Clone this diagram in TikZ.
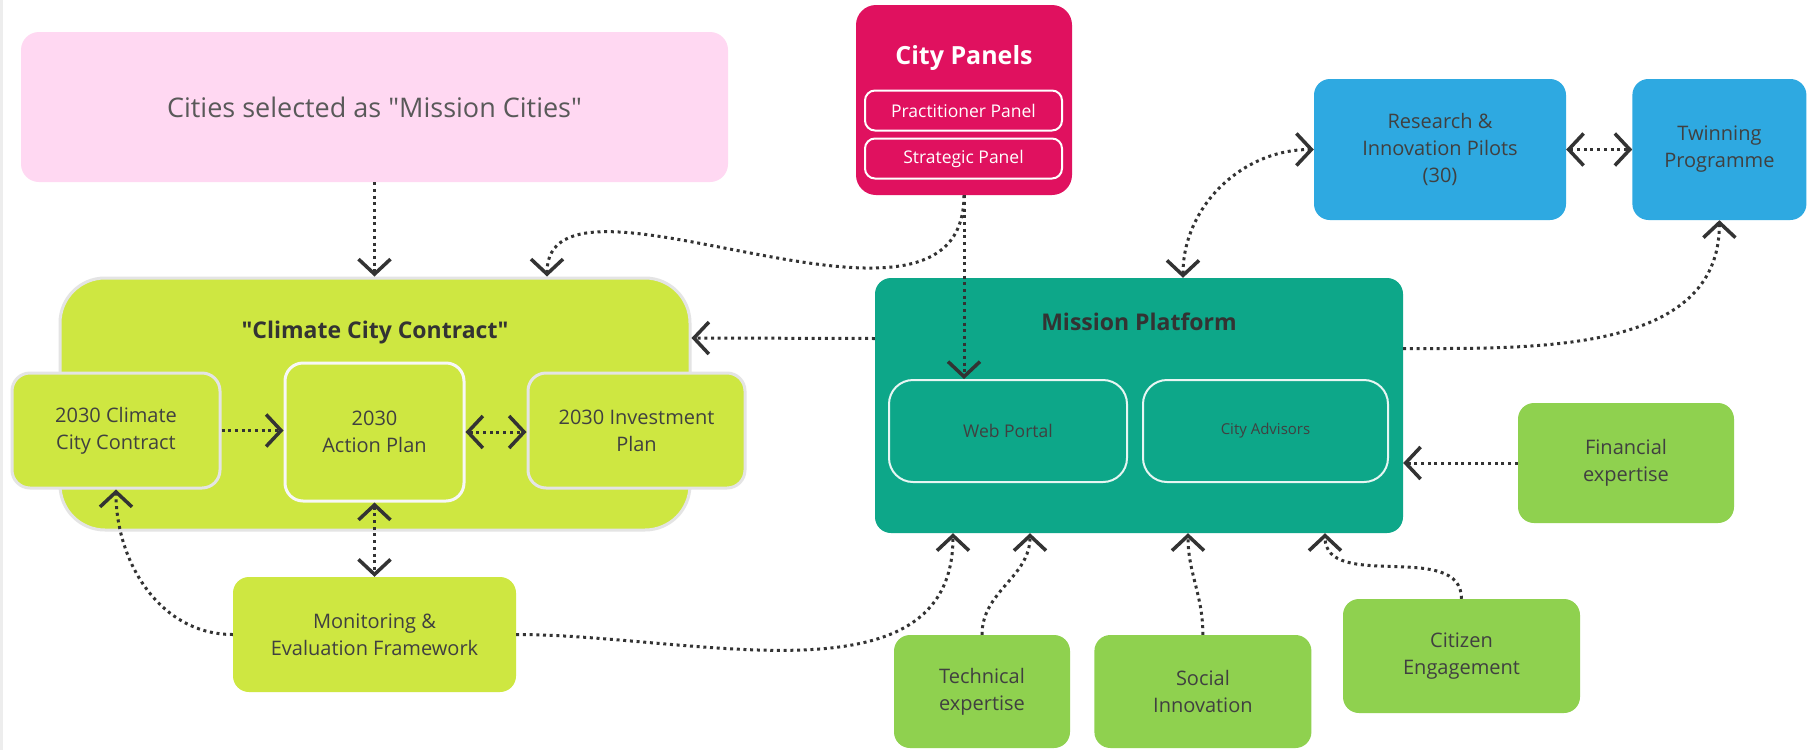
\documentclass[tikz,border=0pt]{standalone}
\usepackage{fontspec}
\setmainfont{Open Sans}
\usepackage{tikz}
\usetikzlibrary{arrows.meta,positioning}
\newcommand\straightquote{\XeTeXglyph\XeTeXcharglyph"22\relax}
\definecolor{cityPink}{HTML}{FFD8F2}
\definecolor{panelRed}{HTML}{E0115F}
\definecolor{contractLime}{HTML}{CEE741}
\definecolor{platformTeal}{HTML}{0DA789}
\definecolor{pilotBlue}{HTML}{2EA9E1}
\definecolor{expertGreen}{HTML}{8FD14F}
\definecolor{textGrey}{HTML}{404040}
\definecolor{rimGrey}{HTML}{E4E4E4}
\tikzset{
    %Define standard arrow tip
    >={Straight Barb[length=15pt,width=32pt,line width=3.5pt]},
    %Define style for boxes
    base/.style={
           rectangle,
           rounded corners=16pt,
           inner sep=0pt,
           text centered,
           align=center,
           text=textGrey,
           font=\fontsize{20}{27}\selectfont},
    pinkbox/.style={
           base,
           fill=cityPink,
           rounded corners=18pt,
           text=black!65,
           font=\fontsize{27}{32}\selectfont},
    panelbox/.style={
           base,
           fill=panelRed,
           rounded corners=20pt},
    panelitem/.style={
           base,
           draw=white, line width=2pt,
           rounded corners=10pt,
           text=white,
           minimum width=197pt,
           minimum height=40pt,
           font=\fontsize{17.5}{20}\selectfont},
    limebox/.style={
           base,
           fill=contractLime},
    limeitem/.style={
           base,
           fill=contractLime,
           draw=rimGrey, line width=3pt,
           rounded corners=18pt},
    tealbox/.style={
           base,
           fill=platformTeal},
    tealitem/.style={
           base,
           draw=white!90!platformTeal, line width=2pt,
           rounded corners=24pt,
           text=black!75,
           font=\fontsize{17.5}{20}\selectfont},
    bluebox/.style={
           base,
           fill=pilotBlue},
    greenbox/.style={
           base,
           fill=expertGreen},
    boxtitle/.style={
           font=\fontsize{23}{26}\selectfont\bfseries,
           text=black!80},
    % Define arrow style
    link/.style={
           ->,
           draw=black!80,
           line width=3pt,
           dash pattern=on 3pt off 3.7pt}
}
\begin{document}
\begin{tikzpicture}[x=1pt,y=1pt]
\useasboundingbox (0,0) rectangle (1818,-750);
\fill[white] (0,0) rectangle (1818,-750);
\fill[black!7] (0,0) rectangle (3,-750);
 %nodes
\node[pinkbox, minimum width=707pt, minimum height=150pt] (cities) at (374.5,-107) {Cities selected as \straightquote Mission Cities\straightquote};
\node[panelbox, minimum width=216pt, minimum height=190pt] (panels) at (964,-100) {};
\node[boxtitle, text=white, font=\fontsize{25}{28}\selectfont\bfseries] (paneltitle) at (964,-58) {City Panels};
\node[panelitem] (practitioner) at (963.5,-110.5) {Practitioner Panel};
\node[panelitem, below=6pt of practitioner] (strategic) {Strategic Panel};
% climate city contract
\node[limebox, draw=rimGrey, line width=3pt, rounded corners=45pt, minimum width=630pt, minimum height=252pt] (ccc) at (375,-404) {};
\node[boxtitle] (ccctitle) at ([yshift=-56pt]ccc.north) {\straightquote Climate City Contract\straightquote};
\node[limeitem, minimum width=208pt, minimum height=115pt] (plan2030) at (116,-430.5) {2030 Climate\\City Contract};
\node[limeitem, draw=white!70!rimGrey, minimum width=179pt, minimum height=138pt] (action) at (374.5,-432) {2030\\Action Plan};
\node[limeitem, minimum width=217pt, minimum height=115pt] (invest) at (636.5,-430.5) {2030 Investment\\Plan};
\node[limebox, minimum width=283pt, minimum height=115pt] (monitor) at (374.5,-634.5) {Monitoring \&\\Evaluation Framework};
% mission platform
\node[tealbox, minimum width=528pt, minimum height=255pt] (platform) at (1139,-405.5) {};
\node[boxtitle] (platformtitle) at ([yshift=-44pt]platform.north) {Mission Platform};
\node[tealitem, minimum width=238pt, minimum height=102pt] (portal) at (1008,-431) {Web Portal};
\node[tealitem, minimum width=245pt, minimum height=102pt, font=\fontsize{15}{18}\selectfont] (advisors) at (1265.5,-431) {City Advisors};
% pilots
\node[bluebox, minimum width=252pt, minimum height=141pt] (pilots) at (1440,-149.5) {Research \&\\Innovation Pilots\\(30)};
\node[bluebox, minimum width=174pt, minimum height=141pt, right=66pt of pilots] (twinning) {Twinning\\Programme};
% expertise
\node[greenbox, minimum width=216pt, minimum height=120pt] (financial) at (1626,-463) {Financial\\expertise};
\node[greenbox, minimum width=176pt, minimum height=113pt] (technical) at (982,-691.5) {Technical\\expertise};
\node[greenbox, minimum width=217pt, minimum height=113pt, right=24pt of technical] (social) {Social\\Innovation};
\node[greenbox, minimum width=237pt, minimum height=114pt] (citizen) at (1461.5,-656) {Citizen\\Engagement};
 %connectors
\draw[link] (cities) -- (cities.south |- ccc.north);
\draw[link] (panels.south) to[out=-90,in=90,out looseness=1.1,in looseness=0.8] ([xshift=172pt]ccc.north);
\draw[link] (panels.south) -- (panels.south |- portal.north);
\draw[link] ([yshift=67pt]platform.west) -- ([yshift=66pt]ccc.east);
\draw[link,<->] ([xshift=44pt]platform.north) to[out=90,in=180] (pilots.west);
\draw[link,<->] (pilots) -- (twinning);
\draw[link] ([yshift=57pt]platform.east) to[out=0,in=-90] (twinning.south);
\draw[link] (financial) -- (financial.west -| platform.east);
\draw[link] (plan2030.east) -- (plan2030.east -| action.west);
\draw[link,<->] (action.east) -- (action.east -| invest.west);
\draw[link,<->] (action) -- (monitor);
\draw[link] (monitor.west) to[out=180,in=-90] (plan2030.south);
\draw[link] (monitor.east) to[out=0,in=-90] ([xshift=-186pt]platform.south);
\draw[link] (technical.north) to[out=90,in=-90] ([xshift=-109pt]platform.south);
\draw[link] (social.north) to[out=90,in=-90] ([xshift=49pt]platform.south);
\draw[link] (citizen.north) to[out=90,in=-90] ([xshift=186pt]platform.south);
\end{tikzpicture}
\end{document}
